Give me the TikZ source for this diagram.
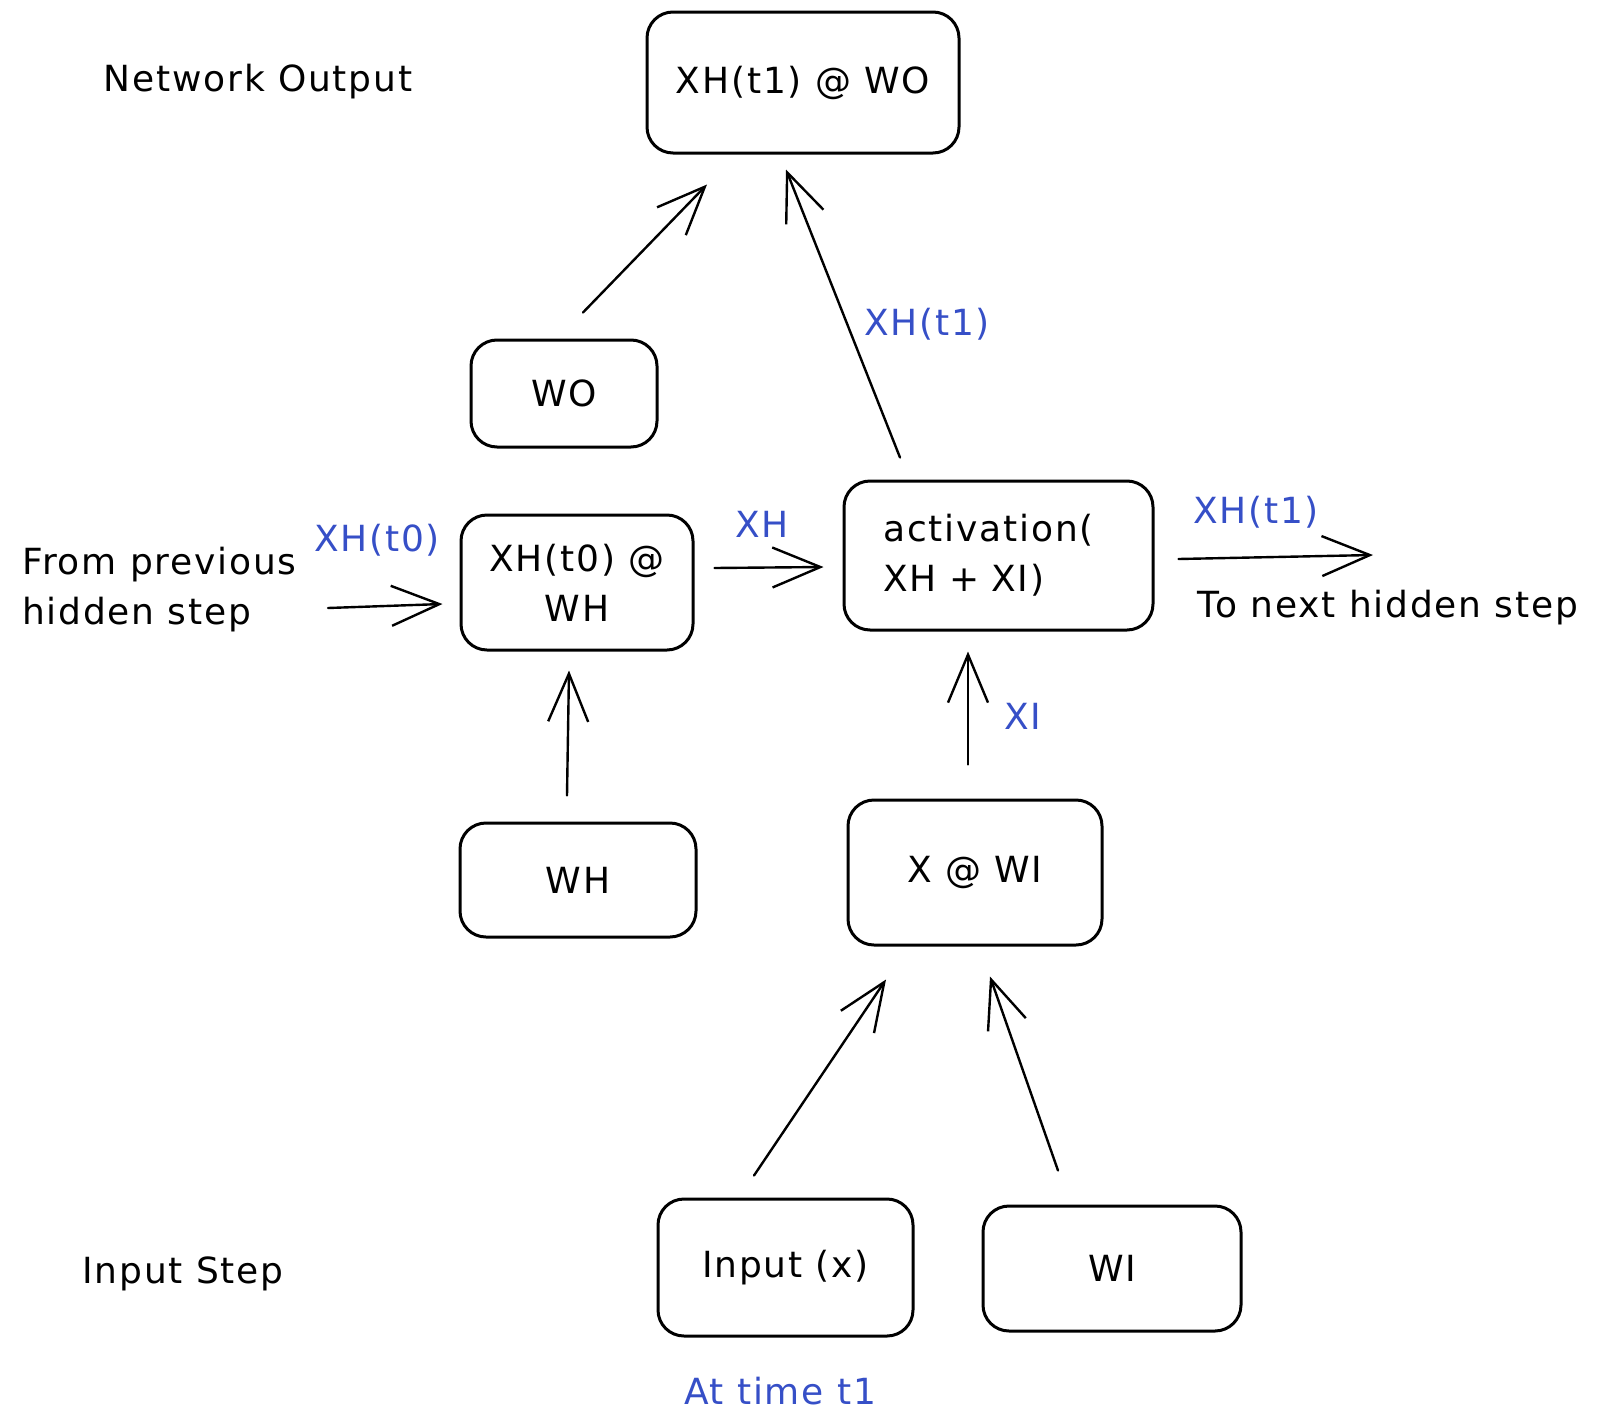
\documentclass[tikz,border=0pt]{standalone}
\usepackage{fontspec}
\setmainfont[LetterSpace=5]{DejaVu Sans}
\usetikzlibrary{arrows.meta,calc}
\definecolor{exblue}{HTML}{364FC7}
\tikzset{
  box/.style={draw=black, line width=3pt, rounded corners=26pt, align=center, font=\fontsize{36}{50}\selectfont, inner sep=0pt},
  arr/.style={draw=black, line width=2.4pt, line cap=round, -{Straight Barb[length=48pt,width=40pt,line width=2.4pt]}},
  lbl/.style={font=\fontsize{36}{50}\selectfont, inner sep=0pt},
  blbl/.style={lbl, text=exblue},
}
\begin{document}
\begin{tikzpicture}[x=1pt,y=-1pt]
\useasboundingbox (0,0) rectangle (1598,1424);
% boxes
\node[box, minimum width=312pt, minimum height=141pt] (top) at (803,82.5) {XH(t1) @ WO};
\node[box, minimum width=186pt, minimum height=107pt] (wo) at (564,393.5) {WO};
\node[box, minimum width=232pt, minimum height=135pt] (xh0) at (577,582.5) {XH(t0) @\\WH};
\node[box, minimum width=309pt, minimum height=149pt, align=left, text width=230pt] (act) at (998.5,555.5) {activation(\\XH + XI)};
\node[box, minimum width=236pt, minimum height=114pt] (wh) at (578,880) {WH};
\node[box, minimum width=254pt, minimum height=145pt] (xwi) at (975,872.5) {X @ WI};
\node[box, minimum width=255pt, minimum height=137pt] (inp) at (785.5,1267.5) {Input (x)};
\node[box, minimum width=258pt, minimum height=125pt] (wi) at (1112,1268.5) {WI};
% labels
\node[lbl] (netout) at (258,82) {Network Output};
\node[lbl, anchor=west, align=left] (fromprev) at (22,590) {From previous\\hidden step};
\node[blbl] (lxh0) at (377,540) {XH(t0)};
\node[blbl] (lxh) at (762,524) {XH};
\node[blbl] (lxh1a) at (927,324) {XH(t1)};
\node[blbl] (lxh1b) at (1256,512) {XH(t1)};
\node[lbl] (tonext) at (1388,608) {To next hidden step};
\node[blbl] (lxi) at (1023,716) {XI};
\node[lbl] (inpstep) at (183,1274) {Input Step};
\node[blbl] (attime) at (780,1391) {At time t1};
% free ends
\coordinate (prev) at (328,608);
\coordinate (next) at (1373,555);
% connectors
\draw[arr] ([shift={(19,-26)}]wo.north) -- ([shift={(-96,30)}]top.south);
\draw[arr] ([shift={(-98.5,-22)}]act.north) -- ([shift={(-17,15)}]top.south);
\draw[arr] (prev) -- ([shift={(-17,21.5)}]xh0.west);
\draw[arr] ([shift={(20,-14.5)}]xh0.east) -- ([shift={(-19,11.5)}]act.west);
\draw[arr] ([shift={(24,3.5)}]act.east) -- (next);
\draw[arr] ([shift={(-11,-26)}]wh.north) -- ([shift={(-8,19)}]xh0.south);
\draw[arr] ([shift={(-7,-34)}]xwi.north) -- ([shift={(-30.5,20)}]act.south);
\draw[arr] ([shift={(-31.5,-22)}]inp.north) -- ([shift={(-89,33)}]xwi.south);
\draw[arr] ([shift={(-54,-34)}]wi.north) -- ([shift={(15,30)}]xwi.south);
\end{tikzpicture}
\end{document}
